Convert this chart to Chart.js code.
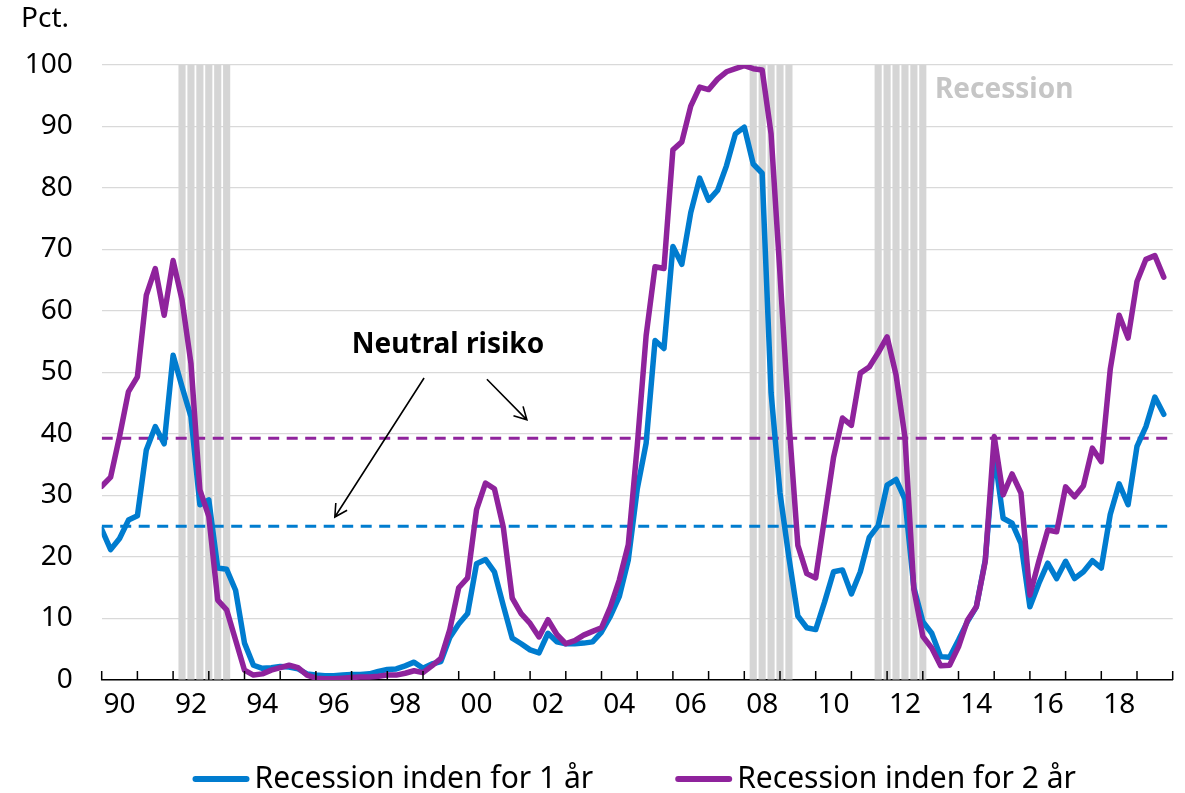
<!DOCTYPE html>
<html lang="da">
<head>
<meta charset="utf-8">
<title>Sandsynlighed for recession</title>
<script src="https://cdn.jsdelivr.net/npm/chart.js@4.4.1/dist/chart.umd.min.js"></script>
<style>
  html, body { margin: 0; padding: 0; background: #fff; }
  #wrap { position: relative; width: 1185px; height: 793px; }
</style>
</head>
<body>
<div id="wrap"><canvas id="recessionChart"></canvas></div>
<script>
// quarterly series, 1990K1 - 2019K4 (pct.)
const firstYear = 1990;
const lastYear = 2020;
const tickLabels = ['90', '92', '94', '96', '98', '00', '02', '04', '06', '08', '10', '12', '14', '16', '18'];

const oneYear = [
  24.5, 21.2, 23.0, 26.0, 26.7, 37.4, 41.2, 38.4, 52.8, 47.7,
  42.8, 28.5, 29.3, 18.2, 18.0, 14.6, 6.0, 2.4, 1.9, 2.0,
  2.2, 2.1, 1.8, 1.0, 0.8, 0.7, 0.7, 0.8, 0.9, 0.9,
  1.0, 1.4, 1.7, 1.8, 2.3, 2.9, 1.9, 2.6, 3.0, 6.9,
  9.1, 10.8, 18.9, 19.6, 17.6, 12.1, 6.8, 5.9, 4.9, 4.4,
  7.6, 6.2, 5.9, 5.9, 6.0, 6.2, 7.8, 10.4, 13.6, 19.5,
  31.0, 38.5, 55.2, 53.9, 70.5, 67.6, 76.0, 81.6, 78.0, 79.6,
  83.6, 88.8, 89.9, 83.9, 82.4, 46.7, 30.4, 19.9, 10.4, 8.5,
  8.2, 12.7, 17.6, 17.9, 14.0, 17.6, 23.2, 25.1, 31.7, 32.6,
  29.4, 15.0, 9.5, 7.6, 3.8, 3.7, 6.5, 9.5, 11.9, 19.5,
  37.0, 26.3, 25.5, 22.2, 11.9, 15.7, 19.0, 16.5, 19.3, 16.5,
  17.6, 19.4, 18.2, 26.9, 31.9, 28.5, 38.0, 41.2, 46.0, 43.2,
];

const twoYear = [
  31.5, 33.0, 39.6, 46.9, 49.3, 62.6, 66.9, 59.3, 68.2, 61.8,
  51.5, 30.9, 26.6, 13.0, 11.4, 6.5, 1.6, 0.8, 1.0, 1.6,
  2.0, 2.4, 2.0, 0.8, 0.3, 0.2, 0.2, 0.3, 0.4, 0.5,
  0.5, 0.6, 0.8, 0.8, 1.1, 1.5, 1.2, 2.3, 3.5, 8.2,
  15.0, 16.6, 27.7, 32.0, 31.1, 24.8, 13.3, 10.8, 9.2, 7.0,
  9.8, 7.4, 5.9, 6.4, 7.3, 7.9, 8.5, 11.9, 16.3, 22.0,
  38.0, 56.0, 67.2, 66.9, 86.2, 87.5, 93.3, 96.4, 96.0, 97.7,
  98.9, 99.4, 99.9, 99.4, 99.2, 88.8, 66.0, 42.0, 21.9, 17.3,
  16.6, 26.4, 36.2, 42.6, 41.4, 49.9, 50.9, 53.2, 55.8, 49.6,
  39.5, 14.7, 7.1, 5.2, 2.3, 2.4, 5.4, 9.7, 11.9, 19.3,
  39.6, 30.1, 33.5, 30.4, 13.8, 19.3, 24.4, 24.1, 31.4, 29.8,
  31.6, 37.7, 35.5, 50.5, 59.3, 55.6, 64.8, 68.4, 69.0, 65.5,
];

// recession quarters (shaded)
const recessionQuarters = [
  1992.25, 1992.5, 1992.75, 1993.0, 1993.25, 1993.5,
  2008.25, 2008.5, 2008.75, 2009.0, 2009.25,
  2011.75, 2012.0, 2012.25, 2012.5, 2012.75, 2013.0,
];

// neutral risk levels
const neutralOneYear = 25;
const neutralTwoYear = 39.3;

const FONT = "'Noto Sans', 'Open Sans', sans-serif";
const BLUE = '#007ccf';
const PURPLE = '#8f239c';
const GREY_BAR = '#d5d5d5';

const quarters = oneYear.map((v, i) => firstYear + i / 4);
const toPoints = (values) => values.map((v, i) => ({ x: quarters[i], y: v }));
const flatLine = (level) => [{ x: firstYear, y: level }, { x: lastYear, y: level }];

const halfYears = [];
for (let v = firstYear; v <= lastYear; v += 0.5) halfYears.push(v);

// annotation anchors in data units (year, pct.)
const notes = {
  recession: { x: 2013.34, y: 95.9 },
  neutral: { x: 1999.70, y: 54.5 },
  arrowLeft: { from: { x: 1999.03, y: 49.1 }, to: { x: 1996.53, y: 26.5 } },
  arrowRight: { from: { x: 2000.79, y: 48.9 }, to: { x: 2001.91, y: 42.3 } },
};

function drawArrow(ctx, x1, y1, x2, y2) {
  const ang = Math.atan2(y2 - y1, x2 - x1);
  const head = 14;
  ctx.beginPath();
  ctx.moveTo(x1, y1);
  ctx.lineTo(x2, y2);
  ctx.moveTo(x2 - head * Math.cos(ang - 0.5), y2 - head * Math.sin(ang - 0.5));
  ctx.lineTo(x2, y2);
  ctx.lineTo(x2 - head * Math.cos(ang + 0.5), y2 - head * Math.sin(ang + 0.5));
  ctx.stroke();
}

const decorations = {
  id: 'decorations',
  afterDatasetsDraw(chart) {
    const { ctx, chartArea, scales: { x, y } } = chart;
    ctx.save();
    // year tick marks point up into the plot
    ctx.strokeStyle = '#000';
    ctx.lineWidth = 1.5;
    for (let yr = firstYear; yr <= lastYear; yr++) {
      const px = x.getPixelForValue(yr);
      ctx.beginPath();
      ctx.moveTo(px, chartArea.bottom);
      ctx.lineTo(px, chartArea.bottom - 9);
      ctx.stroke();
    }

    ctx.textBaseline = 'middle';
    ctx.font = 'bold 28px ' + FONT;
    ctx.fillStyle = '#c6c6c6';
    ctx.textAlign = 'left';
    ctx.fillText('Recession', x.getPixelForValue(notes.recession.x), y.getPixelForValue(notes.recession.y));

    ctx.fillStyle = '#000';
    ctx.textAlign = 'center';
    ctx.fillText('Neutral risiko', x.getPixelForValue(notes.neutral.x), y.getPixelForValue(notes.neutral.y));

    ctx.lineWidth = 1.6;
    [notes.arrowLeft, notes.arrowRight].forEach(a => {
      drawArrow(ctx,
        x.getPixelForValue(a.from.x), y.getPixelForValue(a.from.y),
        x.getPixelForValue(a.to.x), y.getPixelForValue(a.to.y));
    });
    ctx.restore();
  },
  afterDraw(chart) {
    const { ctx, chartArea } = chart;
    ctx.save();
    ctx.font = '28px ' + FONT;
    ctx.fillStyle = '#000';
    ctx.textAlign = 'left';
    ctx.textBaseline = 'middle';
    ctx.fillText('Pct.', 21, 19);

    // legend: line sample + label, centred under the plot
    const items = chart.data.datasets.slice(0, 2);
    const swatch = 57, gap = 5, between = 82;
    ctx.font = '30px ' + FONT;
    const widths = items.map(d => swatch + gap + ctx.measureText(d.label).width);
    const total = widths.reduce((a, b) => a + b, 0) + between * (items.length - 1);
    let cx = (chartArea.left + chartArea.right) / 2 - total / 2 - 3;
    const cy = 779;
    items.forEach((d, i) => {
      ctx.strokeStyle = d.borderColor;
      ctx.lineWidth = 6;
      ctx.lineCap = 'round';
      ctx.beginPath();
      ctx.moveTo(cx + 3, cy);
      ctx.lineTo(cx + swatch - 3, cy);
      ctx.stroke();
      ctx.fillText(d.label, cx + swatch + gap, cy);
      cx += widths[i] + between;
    });
    ctx.restore();
  },
};

const ctx = document.getElementById('recessionChart').getContext('2d');
new Chart(ctx, {
  type: 'line',
  data: {
    datasets: [
      {
        label: 'Recession inden for 1 år',
        data: toPoints(oneYear),
        borderColor: BLUE,
        backgroundColor: BLUE,
        borderWidth: 5.5,
        pointRadius: 0,
        tension: 0,
        borderJoinStyle: 'round',
        borderCapStyle: 'round',
        order: 1,
      },
      {
        label: 'Recession inden for 2 år',
        data: toPoints(twoYear),
        borderColor: PURPLE,
        backgroundColor: PURPLE,
        borderWidth: 5.5,
        pointRadius: 0,
        tension: 0,
        borderJoinStyle: 'round',
        borderCapStyle: 'round',
        order: 0,
      },
      {
        label: 'Neutral 1 år',
        data: flatLine(neutralOneYear),
        borderColor: BLUE,
        borderWidth: 3,
        borderDash: [11, 7.5],
        pointRadius: 0,
        order: 2,
      },
      {
        label: 'Neutral 2 år',
        data: flatLine(neutralTwoYear),
        borderColor: PURPLE,
        borderWidth: 3,
        borderDash: [11, 7.5],
        pointRadius: 0,
        order: 2,
      },
      {
        type: 'bar',
        label: 'Recession',
        data: recessionQuarters.map(q => ({ x: q, y: 100 })),
        backgroundColor: GREY_BAR,
        borderWidth: 0,
        categoryPercentage: 1.0,
        barPercentage: 0.8,
        order: 3,
      },
    ],
  },
  options: {
    responsive: true,
    maintainAspectRatio: false,
    animation: false,
    layout: { padding: { top: 65, right: 12.3, bottom: 0, left: 0 } },
    plugins: {
      tooltip: { enabled: false },
      legend: { display: false },
    },
    scales: {
      x: {
        type: 'linear',
        offset: false,
        min: firstYear,
        max: lastYear,
        afterBuildTicks: (scale) => { scale.ticks = halfYears.map(v => ({ value: v })); },
        afterFit: (scale) => { scale.height = 113; },
        grid: { display: false, drawTicks: false, offset: false },
        border: { display: true, color: '#000', width: 1.5 },
        ticks: {
          autoSkip: false,
          maxRotation: 0,
          padding: 8,
          color: '#000',
          font: { family: FONT, size: 28 },
          callback: (v) => {
            const i = (v - firstYear - 0.5) / 2;
            return Number.isInteger(i) ? tickLabels[i] : '';
          },
        },
      },
      y: {
        min: 0,
        max: 100,
        afterFit: (scale) => { scale.width = 101.7; },
        grid: { color: '#d9d9d9', lineWidth: 1.2, drawTicks: false },
        border: { display: false },
        ticks: {
          stepSize: 10,
          padding: 29,
          color: '#000',
          font: { family: FONT, size: 28 },
        },
      },
    },
  },
  plugins: [decorations],
});
</script>
</body>
</html>
